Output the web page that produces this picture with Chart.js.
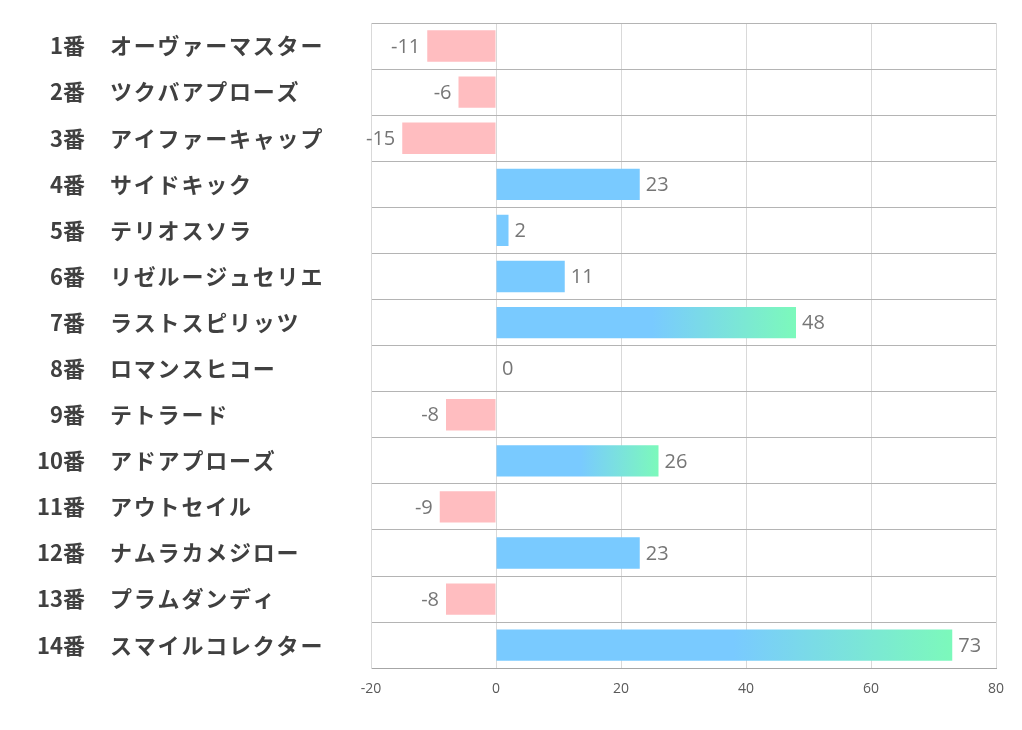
<!DOCTYPE html>
<html>
<head>
<meta charset="utf-8">
<script src="https://cdn.jsdelivr.net/npm/chart.js@4.4.1/dist/chart.umd.min.js"></script>
<style>
  html, body { margin: 0; padding: 0; background: #fff; }
  #wrap { width: 1022px; height: 730px; position: relative; }
</style>
</head>
<body>
<div id="wrap"><canvas id="chart"></canvas></div>
<script>
// horses and their scores
const horseNums = ["1番", "2番", "3番", "4番", "5番", "6番", "7番", "8番", "9番", "10番", "11番", "12番", "13番", "14番"];
const horseNames = ["オーヴァーマスター", "ツクバアプローズ", "アイファーキャップ", "サイドキック", "テリオスソラ",
    "リゼルージュセリエ", "ラストスピリッツ", "ロマンスヒコー", "テトラード", "アドアプローズ",
    "アウトセイル", "ナムラカメジロー", "プラムダンディ", "スマイルコレクター"];
const scores = [-11, -6, -15, 23, 2, 11, 48, 0, -8, 26, -9, 23, -8, 73];
const xTicks = [-20, 0, 20, 40, 60, 80];

const PINK = "#FFBDC0";
const BLUE = "#79CAFF";
const GREEN = "#7CF9BB";

function barColor(ctx) {
    var v = ctx.raw;
    if (v < 0) return PINK;
    if (v <= 25) return BLUE;
    var x = ctx.chart.scales.x;
    if (!x || !ctx.chart.chartArea) return BLUE;
    var g = ctx.chart.ctx.createLinearGradient(x.getPixelForValue(0), 0, x.getPixelForValue(v), 0);
    g.addColorStop(0, BLUE);
    g.addColorStop(0.52, BLUE);
    g.addColorStop(1, GREEN);
    return g;
}

// draws the two-part row labels and the value labels
const labelPlugin = {
    id: "labels",
    afterDatasetsDraw(chart) {
        var c = chart.ctx;
        var ys = chart.scales.y;
        var meta = chart.getDatasetMeta(0);
        c.save();
        c.textBaseline = "middle";
        c.fillStyle = "#404040";
        c.font = "bold 22px 'Noto Sans CJK JP'";
        horseNums.forEach(function (n, i) {
            var y = ys.getPixelForValue(i);
            c.letterSpacing = "0px";
            c.textAlign = "right";
            c.fillText(n, 85, y);
            c.letterSpacing = "1.8px";
            c.textAlign = "left";
            c.fillText(horseNames[i], 110, y);
        });
        c.letterSpacing = "0px";
        c.font = "20px 'Open Sans'";
        c.fillStyle = "#767676";
        meta.data.forEach(function (bar, i) {
            var v = scores[i];
            if (v < 0) {
                c.textAlign = "right";
                c.fillText(String(v), bar.x - 7, bar.y + 1);
            } else {
                c.textAlign = "left";
                c.fillText(String(v), bar.x + 6, bar.y + 1);
            }
        });
        c.restore();
    }
};

new Chart("chart", {
    type: "bar",
    data: {
        labels: horseNames,
        datasets: [{
            data: scores,
            backgroundColor: barColor,
            barPercentage: 0.68,
            categoryPercentage: 1
        }]
    },
    options: {
        indexAxis: "y",
        responsive: true,
        maintainAspectRatio: false,
        animation: false,
        layout: { padding: { left: 371, right: 26, top: 23, bottom: 21 } },
        plugins: { legend: { display: false }, tooltip: { enabled: false } },
        scales: {
            x: {
                min: -20,
                max: 80,
                z: 1,
                afterBuildTicks: function (axis) {
                    axis.ticks = xTicks.map(function (v) { return { value: v }; });
                },
                grid: { color: "rgba(0,0,0,0.15)", drawTicks: false },
                border: { color: "#a6a6a6" },
                ticks: {
                    padding: 12,
                    color: "#595959",
                    font: { family: "'Open Sans'", size: 14 }
                }
            },
            y: {
                grid: { color: "#b4b4b4", offset: true, drawTicks: false },
                border: { color: "#d9d9d9" },
                ticks: { display: false }
            }
        }
    },
    plugins: [labelPlugin]
});
</script>
</body>
</html>
